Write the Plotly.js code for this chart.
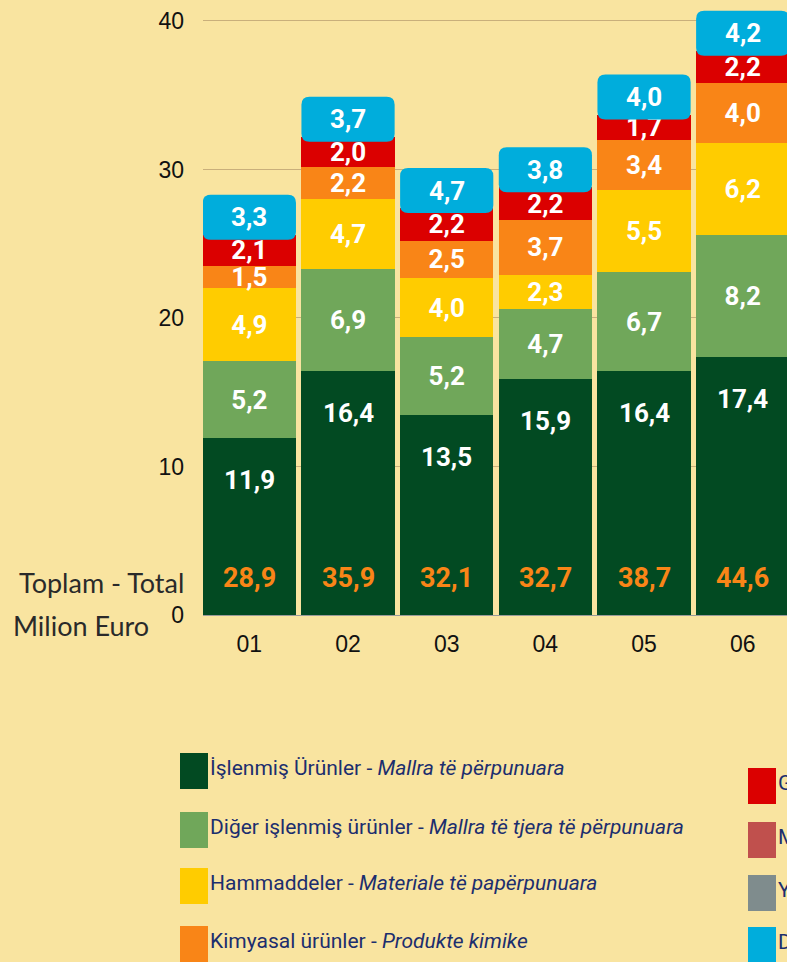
<!DOCTYPE html>
<html><head><meta charset="utf-8">
<script src="https://cdn.plot.ly/plotly-3.0.1.min.js"></script>
<style>html,body{margin:0;padding:0;overflow:hidden;background:#F9E4A0;}#chart{width:800px;height:962px;}</style>
</head><body><div id="chart"></div>
<script>
// ---- data ----
const categories = ['01','02','03','04','05','06'];
const islenmis      = [11.9, 16.4, 13.5, 15.9, 16.4, 17.4];
const digerIslenmis = [5.2, 6.9, 5.2, 4.7, 6.7, 8.2];
const hammadde      = [4.9, 4.7, 4.0, 2.3, 5.5, 6.2];
const kimyasal      = [1.5, 2.2, 2.5, 3.7, 3.4, 4.0];
const gida          = [2.1, 2.0, 2.2, 2.2, 1.7, 2.2];
const diger         = [3.3, 3.7, 4.7, 3.8, 4.0, 4.2];
const toplam        = [28.9, 35.9, 32.1, 32.7, 38.7, 44.6];
const yTicks = [0, 10, 20, 30, 40];
const seriesNames = [
  'İşlenmiş Ürünler - <i>Mallra të përpunuara</i>',
  'Diğer işlenmiş ürünler - <i>Mallra të tjera të përpunuara</i>',
  'Hammaddeler - <i>Materiale të papërpunuara</i>',
  'Kimyasal ürünler - <i>Produkte kimike</i>',
  'Gıda ürünleri - <i>Produkte ushqimore</i>',
  'Makine - <i>Makineri</i>',
  'Yakıt - <i>Lëndë djegëse</i>',
  'Diğer - <i>Të tjera</i>'
];
const axisTitleLines = ['Toplam - Total', 'Milion Euro'];

// ---- style ----
const colors = ['#024A22', '#70A75A', '#FFCC00', '#F98517', '#DB0000', '#C0504D', '#7F8C8D', '#00ADDC'];
const BG = '#F9E4A0';
const condFamily = 'Roboto, Liberation Sans Narrow, DejaVu Sans, sans-serif';
const labelFont = {family: condFamily, size: 26, color: '#FFFFFF', weight: 700};
const fmt = v => v.toFixed(1).replace('.', ',');

const L = 203, T = 10, W = 592, H = 605;
const px2x = px => (px - L) / W;
const py2y = py => (T + H - py) / H;

const stackSeries = [islenmis, digerIslenmis, hammadde, kimyasal, gida];
const traces = stackSeries.map((vals, k) => ({
  type: 'bar',
  x: categories,
  y: vals,
  name: seriesNames[k],
  marker: {color: colors[k]},
  text: k === 0 ? undefined : vals.map(fmt),
  textposition: k === 0 ? 'none' : 'inside',
  insidetextanchor: 'middle',
  textangle: 0,
  constraintext: 'none',
  textfont: labelFont,
  cliponaxis: false,
  hoverinfo: 'skip'
}));

// cumulative top of the stacked part
const cum = categories.map((c, i) => stackSeries.reduce((s, arr) => s + arr[i], 0));

const shapes = [];
const annotations = [];
const halfW = 46.6, r = 8, yb = -5, yt = 40;
categories.forEach((c, i) => {
  const p = `M ${-halfW + r},${yb} L ${halfW - r},${yb} Q ${halfW},${yb} ${halfW},${yb + r} L ${halfW},${yt - r} Q ${halfW},${yt} ${halfW - r},${yt} L ${-halfW + r},${yt} Q ${-halfW},${yt} ${-halfW},${yt - r} L ${-halfW},${yb + r} Q ${-halfW},${yb} ${-halfW + r},${yb} Z`;
  // category serial number i is the position of categories[i]
  shapes.push({
    type: 'path', xref: 'x', yref: 'y', xsizemode: 'pixel', ysizemode: 'pixel',
    xanchor: i, yanchor: cum[i], path: p,
    fillcolor: colors[7], line: {width: 0}, layer: 'above'
  });
  annotations.push({x: i, y: cum[i], yshift: 17.5, text: fmt(diger[i]), showarrow: false,
    font: labelFont, xanchor: 'center', yanchor: 'middle'});
  annotations.push({x: i, y: islenmis[i], yshift: -42, text: fmt(islenmis[i]), showarrow: false,
    font: labelFont, xanchor: 'center', yanchor: 'middle'});
  annotations.push({x: i, y: 0, yshift: 37, text: fmt(toplam[i]), showarrow: false,
    font: Object.assign({}, labelFont, {color: '#F98517', size: 27}), xanchor: 'center', yanchor: 'middle'});
});

// axis title text
const titleFont = {family: 'Lato, sans-serif', size: 27, color: '#2A2A2A'};
annotations.push({xref: 'paper', yref: 'paper', x: px2x(17), y: py2y(582), xanchor: 'left', yanchor: 'middle',
  text: axisTitleLines[0], showarrow: false, font: titleFont});
annotations.push({xref: 'paper', yref: 'paper', x: px2x(11), y: py2y(625), xanchor: 'left', yanchor: 'middle',
  text: axisTitleLines[1], showarrow: false, font: titleFont});

// legend (two columns)
const legendFont = {family: condFamily, size: 21, color: '#1C2E6E'};
const col1 = {sx: 180, tx: 208, tops: [753, 812, 868, 926]};
const col2 = {sx: 748, tx: 776, tops: [768, 822, 875, 927]};
seriesNames.forEach((name, k) => {
  const col = k < 4 ? col1 : col2;
  const top = col.tops[k % 4];
  shapes.push({type: 'rect', xref: 'paper', yref: 'paper',
    x0: px2x(col.sx), x1: px2x(col.sx + 28), y0: py2y(top + 36), y1: py2y(top),
    fillcolor: colors[k], line: {width: 0}});
  annotations.push({xref: 'paper', yref: 'paper', x: px2x(col.tx), y: py2y(top + 15), xanchor: 'left', yanchor: 'middle',
    text: name, showarrow: false, font: legendFont});
});

const layout = {
  width: 800, height: 962,
  margin: {l: L, r: 800 - L - W, t: T, b: 962 - T - H},
  paper_bgcolor: BG, plot_bgcolor: BG,
  barmode: 'stack', bargap: 0.055,
  separators: ',.',
  showlegend: false,
  xaxis: {type: 'category', range: [-0.47, 5.53], ticks: '', showgrid: false, zeroline: false,
    tickfont: {family: 'Liberation Sans, Arial, sans-serif', size: 23, color: '#111111'}, ticklabelstandoff: 13},
  yaxis: {range: [0, 40.74], tickvals: yTicks, ticks: '', showgrid: true, gridcolor: '#C9AF7B', gridwidth: 1,
    zeroline: true, zerolinecolor: '#9A9A9A', zerolinewidth: 1,
    tickfont: {family: 'Liberation Sans, Arial, sans-serif', size: 23, color: '#111111'}, ticklabelstandoff: 18},
  shapes: shapes,
  annotations: annotations
};

Plotly.newPlot('chart', traces, layout, {staticPlot: true, displayModeBar: false});
</script>
</body></html>
